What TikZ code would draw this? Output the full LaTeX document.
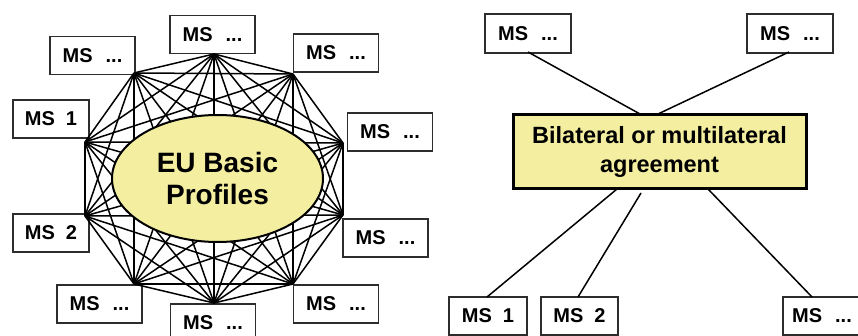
\documentclass[tikz,border=0pt]{standalone}
\usepackage{fontspec}
\setmainfont{Liberation Sans}
\usetikzlibrary{shapes.geometric}
\definecolor{boxyellow}{RGB}{244,239,160}
\definecolor{edgegrey}{RGB}{45,45,45}
\tikzset{
  msbox/.style={draw=edgegrey, line width=1.4pt, fill=white, minimum width=85pt, minimum height=38pt, inner sep=0pt,
    font=\fontsize{20}{24}\selectfont\bfseries},
  link/.style={line width=1.5pt, black},
  hub/.style={draw=black, line width=2pt, fill=boxyellow, ellipse, minimum width=211pt, minimum height=127pt, inner sep=0pt,
    font=\fontsize{28}{33}\selectfont\bfseries, align=center},
  agrbox/.style={draw=black, line width=3pt, fill=boxyellow, minimum width=293pt, minimum height=74pt, inner sep=0pt,
    font=\fontsize{23.5}{29}\selectfont\bfseries, align=center}
}
\newcommand{\msd}{MS\hspace{0.65em}...}
\newcommand{\msn}[1]{MS\hspace{0.55em}#1}
\begin{document}
\begin{tikzpicture}[x=1pt,y=-1pt]
\useasboundingbox (0,0) rectangle (858,336);
% left: boxes
\node[msbox] (t)  at (212.5,34.5) {\msd};
\node[msbox] (tl) at (92.5,55.5) {\msd};
\node[msbox] (tr) at (336,53) {\msd};
\node[msbox, minimum width=76pt] (m1) at (51,119) {\msn{1}};
\node[msbox] (ru) at (390,132) {\msd};
\node[msbox, minimum width=76pt] (m2) at (51,233) {\msn{2}};
\node[msbox] (rl) at (385.5,238) {\msd};
\node[msbox] (bl) at (99.5,304) {\msd};
\node[msbox] (br) at (336,304) {\msd};
\node[msbox] (b)  at (213,323) {\msd};
% vertices of the complete graph
\coordinate (v1) at (214,54);
\coordinate (v2) at (293,74);
\coordinate (v3) at (343,143);
\coordinate (v4) at (343,215);
\coordinate (v5) at (293,284);
\coordinate (v6) at (214,303);
\coordinate (v7) at (134,284);
\coordinate (v8) at (85,216);
\coordinate (v9) at (85,142);
\coordinate (v10) at (134,73);
\foreach \i in {1,...,10}{
  \foreach \j in {1,...,10}{
    \ifnum\i<\j \draw[link] (v\i) -- (v\j); \fi
  }
}
\node[hub] (eu) at (217.5,178.5) {EU Basic\\[-1pt]Profiles};
% right
\node[msbox, minimum width=86pt, minimum height=39pt] (rtl) at (528,33.5) {\msd};
\node[msbox, minimum width=86pt, minimum height=39pt] (rtr) at (790,33.5) {\msd};
\node[agrbox] (agr) at (659.5,152) {Bilateral or multilateral\\agreement};
\node[msbox, minimum width=78pt] (rm1) at (488,316) {\msn{1}};
\node[msbox, minimum width=77pt] (rm2) at (579.5,316) {\msn{2}};
\node[msbox, minimum width=78pt] (rmx) at (822,316) {\msd};
\coordinate (a1) at (640,114);
\coordinate (a2) at (658,114);
\coordinate (a3) at (617,189);
\coordinate (a4) at (641,193);
\coordinate (a5) at (708,189);
\coordinate (s1) at (528,52);
\coordinate (s2) at (789,52);
\coordinate (e1) at (487,297);
\coordinate (e2) at (578,297);
\coordinate (e3) at (812,297);
\draw[link] (s1) -- (a1);
\draw[link] (s2) -- (a2);
\draw[link] (a3) -- (e1);
\draw[link] (a4) -- (e2);
\draw[link] (a5) -- (e3);
\end{tikzpicture}
\end{document}
